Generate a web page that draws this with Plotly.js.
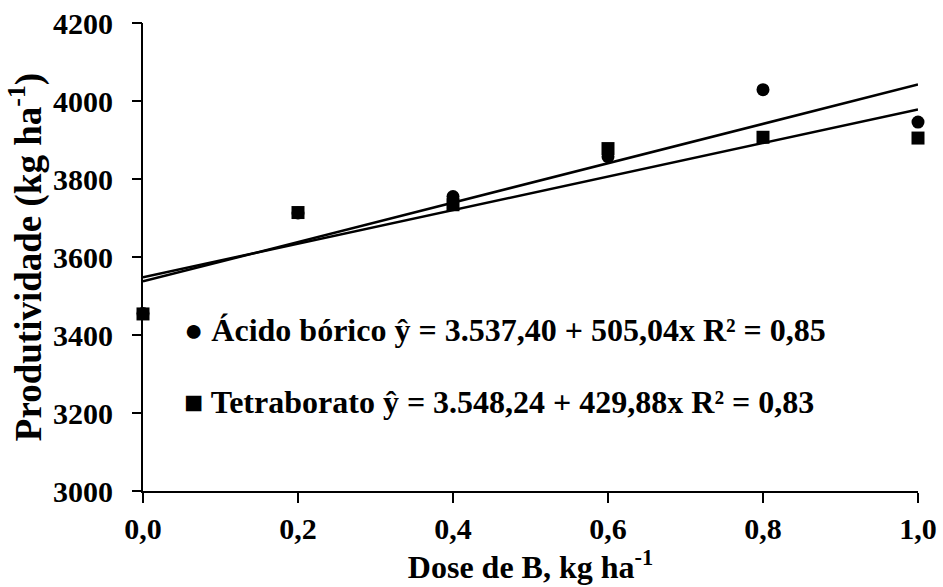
<!DOCTYPE html>
<html>
<head>
<meta charset="utf-8">
<script src="https://cdn.plot.ly/plotly-3.0.1.min.js"></script>
<style>html,body{margin:0;padding:0;background:#fff;}</style>
</head>
<body>
<div id="chart" style="width:943px;height:587px;"></div>
<script>
// Data
const doses = [0.0, 0.2, 0.4, 0.6, 0.8, 1.0];
const acidoBorico = [3455, 3713, 3755, 3857, 4029, 3946];
const tetraborato = [3454, 3714, 3734, 3878, 3907, 3905];

// Regression coefficients shown on the chart [intercept, slope]
const acidoFit = [3537.40, 505.04];
const tetraFit = [3548.24, 429.88];
const fitX = [0.0, 1.0];

const xTickVals = [0.0, 0.2, 0.4, 0.6, 0.8, 1.0];
const xTickText = ['0,0', '0,2', '0,4', '0,6', '0,8', '1,0'];
const yTickVals = [3000, 3200, 3400, 3600, 3800, 4000, 4200];
const yTickText = ['3000', '3200', '3400', '3600', '3800', '4000', '4200'];
const yRange = [3000, 4200];

const labelAcido = '● Ácido bórico ŷ = 3.537,40 + 505,04x R² = 0,85';
const labelTetra = '■ Tetraborato ŷ = 3.548,24 + 429,88x R² = 0,83';

const FONT = 'Liberation Serif, Times New Roman, serif';

const traces = [
  {x: fitX, y: fitX.map(v => acidoFit[0] + acidoFit[1] * v), mode: 'lines',
   line: {color: '#000', width: 2.5}, showlegend: false, hoverinfo: 'skip'},
  {x: fitX, y: fitX.map(v => tetraFit[0] + tetraFit[1] * v), mode: 'lines',
   line: {color: '#000', width: 2.5}, showlegend: false, hoverinfo: 'skip'},
  {x: doses, y: acidoBorico, mode: 'markers', name: 'Ácido bórico',
   marker: {symbol: 'circle', size: 13, color: '#000'}, cliponaxis: false, showlegend: false},
  {x: doses, y: tetraborato, mode: 'markers', name: 'Tetraborato',
   marker: {symbol: 'square', size: 13, color: '#000'}, cliponaxis: false, showlegend: false},
  // empty trace so the tick/title axis y2 is part of the plot
  {x: [], y: [], yaxis: 'y2', mode: 'markers', showlegend: false, hoverinfo: 'skip'}
];

const tickFont = {family: FONT, size: 30, color: '#000', weight: 'bold'};

const layout = {
  width: 943, height: 587,
  margin: {l: 143, r: 25, t: 23, b: 96},
  paper_bgcolor: '#fff', plot_bgcolor: '#fff',
  font: {family: FONT, color: '#000'},
  showlegend: false,
  xaxis: {
    range: [0, 1], tickmode: 'array', tickvals: xTickVals, ticktext: xTickText,
    showline: true, linecolor: '#000', linewidth: 2,
    ticks: 'outside', ticklen: 10, tickwidth: 2, tickcolor: '#000',
    showgrid: false, zeroline: false, automargin: false, tickfont: tickFont,
    title: {text: 'Dose de B, kg ha<sup>-1</sup>', standoff: 12,
            font: {family: FONT, size: 32, color: '#000', weight: 'bold'}}
  },
  // labels axis: invisible long ticks push the labels away from the axis line
  yaxis: {
    range: yRange, tickmode: 'array', tickvals: yTickVals, ticktext: yTickText,
    showline: true, linecolor: '#000', linewidth: 2,
    ticks: 'outside', ticklen: 22, tickwidth: 2, tickcolor: 'rgba(0,0,0,0)',
    showgrid: false, zeroline: false, automargin: false, tickfont: tickFont
  },
  // visible tick marks and the axis title
  yaxis2: {
    overlaying: 'y', side: 'left', anchor: 'x',
    range: yRange, tickmode: 'array', tickvals: yTickVals,
    showticklabels: false, showline: false,
    ticks: 'outside', ticklen: 10, tickwidth: 2, tickcolor: '#000',
    showgrid: false, zeroline: false, automargin: false,
    title: {text: 'Produtividade (kg ha<sup>-1</sup>)', standoff: 79,
            font: {family: FONT, size: 37, color: '#000', weight: 'bold'}}
  },
  annotations: [
    {xref: 'paper', yref: 'paper', x: 0.050, y: 0.344, xanchor: 'left', yanchor: 'middle',
     text: labelAcido, showarrow: false,
     font: {family: FONT, size: 32, color: '#000', weight: 'bold'}},
    {xref: 'paper', yref: 'paper', x: 0.050, y: 0.19, xanchor: 'left', yanchor: 'middle',
     text: labelTetra, showarrow: false,
     font: {family: FONT, size: 32, color: '#000', weight: 'bold'}}
  ]
};

Plotly.newPlot('chart', traces, layout, {staticPlot: true, displayModeBar: false});
</script>
</body>
</html>
